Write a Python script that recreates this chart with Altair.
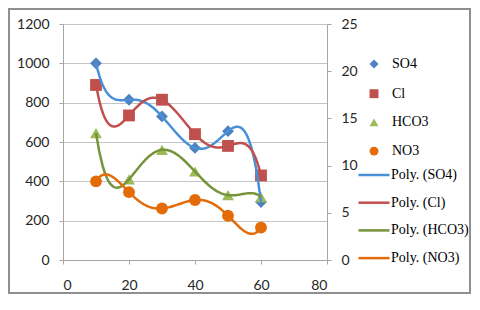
import altair as alt
import pandas as pd

# ---- data ----
x_vals = [10, 20, 30, 40, 50, 60]
so4 = [1000, 815, 730, 570, 655, 295]
cl = [890, 735, 815, 640, 580, 430]
hco3 = [645, 410, 560, 450, 330, 320]
no3 = [400, 345, 262, 305, 225, 165]

series_names = ["SO4", "Cl", "HCO3", "NO3"]
trend_names = ["Poly. (SO4)", "Poly. (Cl)", "Poly. (HCO3)", "Poly. (NO3)"]
marker_colors = ["#4F81BD", "#C0504D", "#9BBB59", "#E36C09"]
line_colors = ["#4A90D9", "#C0504D", "#77933C", "#E36C09"]
shapes = ["diamond", "square", "triangle-up", "circle"]

left_ticks = [0, 200, 400, 600, 800, 1000, 1200]
right_ticks = [0, 5, 10, 15, 20, 25]
x_ticks = [0, 20, 40, 60, 80]

rows = []
for name, vals in zip(series_names, [so4, cl, hco3, no3]):
    for xv, yv in zip(x_vals, vals):
        rows.append({"series": name, "x": xv, "y": yv})
df = pd.DataFrame(rows)

SERIF = "Liberation Serif"

X = alt.X("x:Q", scale=alt.Scale(domain=[0, 80], nice=False),
          axis=alt.Axis(values=x_ticks, grid=False, title=None, labelPadding=14, format="d"))
Y = alt.Y("y:Q", scale=alt.Scale(domain=[0, 1200], nice=False),
          axis=alt.Axis(values=left_ticks, grid=True, title=None, labelPadding=10, format="d"))

pt_legend = alt.Legend(title=None, orient="none", legendX=304, legendY=33,
                       symbolSize=80, labelOffset=11, rowPadding=13.7,
                       labelFont=SERIF, labelFontSize=14, labelColor="#000000", padding=0)

points = alt.Chart(df).mark_point(filled=True, opacity=1, size=140).encode(
    x=X, y=Y,
    shape=alt.Shape("series:N", scale=alt.Scale(domain=series_names, range=shapes), legend=pt_legend),
    fill=alt.Fill("series:N", scale=alt.Scale(domain=series_names, range=marker_colors), legend=pt_legend),
)

lines = alt.Chart(df).transform_regression(
    "x", "y", groupby=["series"], method="poly", order=5, extent=[10, 60]
).transform_calculate(
    trend="'Poly. (' + datum.series + ')'"
).mark_line(strokeWidth=2.5).encode(
    x=X, y=Y,
    stroke=alt.Stroke("trend:N", scale=alt.Scale(domain=trend_names, range=line_colors),
                      legend=alt.Legend(title=None, orient="none", legendX=304, legendY=144,
                                        symbolType="M-3.1,0H3.1", symbolSize=100,
                                        symbolStrokeWidth=2.5, labelOffset=10, rowPadding=13.7,
                                        labelFont=SERIF, labelFontSize=14, labelColor="#000000",
                                        padding=0)),
)

main = alt.layer(points, lines)

rdf = pd.DataFrame({"v": right_ticks})
right = alt.Chart(rdf).mark_point(opacity=0).encode(
    y=alt.Y("v:Q", scale=alt.Scale(domain=[0, 25], nice=False),
            axis=alt.Axis(orient="right", values=right_ticks, grid=False, title=None,
                          labelPadding=10, format="d"))
)

frame = alt.Chart(pd.DataFrame({"k": [0]})).mark_rect(
    fillOpacity=0, stroke="#8f8f8f", strokeWidth=2
).encode(x=alt.value(-54), x2=alt.value(407), y=alt.value(-15), y2=alt.value(269))

chart = alt.layer(frame, main, right).resolve_scale(y="independent").properties(
    width=264, height=236,
    autosize=alt.AutoSizeParams(type="none"),
    padding={"left": 55, "top": 16, "right": 145, "bottom": 34},
).configure_view(strokeWidth=0).configure_axis(
    labelFont="Lato", labelFontSize=14, labelColor="#262626",
    domainColor="#a6a6a6", tickColor="#a6a6a6", gridColor="#c4c4c4",
    tickSize=4, domainWidth=1, gridWidth=1,
)

chart.save("out.html", embed_options={"renderer": "svg", "actions": False})
